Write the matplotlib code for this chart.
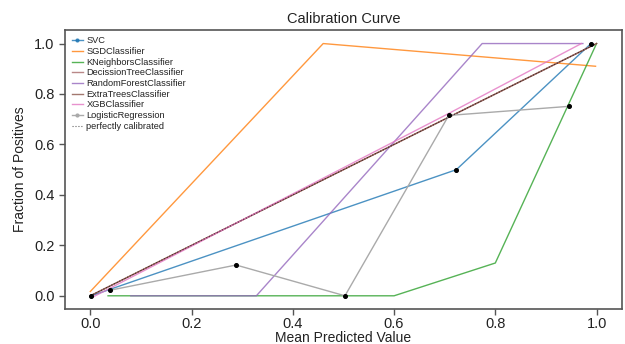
import matplotlib
matplotlib.use("Agg")
import matplotlib.pyplot as plt

plt.rcParams['font.family'] = ['Liberation Sans', 'DejaVu Sans']

# calibration points (mean predicted, fraction positive)
svc_x = [0.002, 0.723, 0.989]
svc_y = [0.0, 0.50, 1.0]
sgd_x = [0.0, 0.46, 0.998]
sgd_y = [0.017, 1.0, 0.91]
knn_x = [0.035, 0.60, 0.80, 1.0]
knn_y = [0.0, 0.0, 0.13, 1.0]
dt_x = [0.0, 1.0]
dt_y = [0.0, 1.0]
rf_x = [0.08, 0.328, 0.774, 0.973]
rf_y = [0.0, 0.0, 1.0, 1.0]
et_x = [0.0, 0.71, 1.0]
et_y = [0.0, 0.71, 1.0]
xgb_x = [0.005, 0.71, 0.97]
xgb_y = [-0.005, 0.725, 1.0]
lr_x = [0.039, 0.288, 0.503, 0.708, 0.945]
lr_y = [0.022, 0.122, 0.0, 0.715, 0.751]
perfect = [0, 1]

fig = plt.figure(figsize=(6.25, 3.44), dpi=100)
ax = fig.add_axes([0.104, 0.102, 0.891, 0.811])

lw = 1.0
a = 0.8
ax.plot(svc_x, svc_y, marker='.', ms=4, lw=lw, alpha=a, color='C0', label='SVC')
ax.plot(sgd_x, sgd_y, lw=lw, alpha=a, color='C1', label='SGDClassifier')
ax.plot(knn_x, knn_y, lw=lw, alpha=a, color='C2', label='KNeighborsClassifier')
ax.plot(dt_x, dt_y, lw=lw, alpha=a, color='#a86a6a', label='DecissionTreeClassifier')
ax.plot(rf_x, rf_y, lw=lw, alpha=a, color='C4', label='RandomForestClassifier')
ax.plot(et_x, et_y, lw=lw, alpha=a, color='C5', label='ExtraTreesClassifier')
ax.plot(xgb_x, xgb_y, lw=lw, alpha=a, color='C6', label='XGBClassifier')
ax.plot(lr_x, lr_y, marker='.', ms=4, lw=lw, color='#aaaaaa', label='LogisticRegression')
ax.plot(perfect, perfect, 'k:', lw=0.8, alpha=0.6, label='perfectly calibrated')

# the dots show up black on the chart
ax.plot(svc_x, svc_y, 'o', ms=2.6, color='black', zorder=5)
ax.plot(lr_x, lr_y, 'o', ms=2.6, color='black', zorder=5)

ax.set_xlim(-0.05, 1.05)
ax.set_ylim(-0.052, 1.054)
ax.set_xticks([0.0, 0.2, 0.4, 0.6, 0.8, 1.0])
ax.set_yticks([0.0, 0.2, 0.4, 0.6, 0.8, 1.0])

for s in ax.spines.values():
    s.set_color('#555555')
    s.set_linewidth(1.2)
ax.tick_params(colors='#555555', labelcolor='#222222', labelsize=10.5,
               length=4, width=1)
ax.tick_params(axis='x', pad=2)

ax.set_title('Calibration Curve', fontsize=10.5, color='#222222', pad=5)
ax.set_xlabel('Mean Predicted Value', fontsize=10, color='#222222', labelpad=0)
ax.set_ylabel('Fraction of Positives', fontsize=10, color='#222222', labelpad=5)

leg = ax.legend(loc='upper left', frameon=False, fontsize=6.7, handlelength=1.2,
                handletextpad=0.4, labelspacing=0.18, borderaxespad=0.4,
                borderpad=0.3)
for t in leg.get_texts():
    t.set_color('#222222')

fig.savefig('out.png', dpi=100)
